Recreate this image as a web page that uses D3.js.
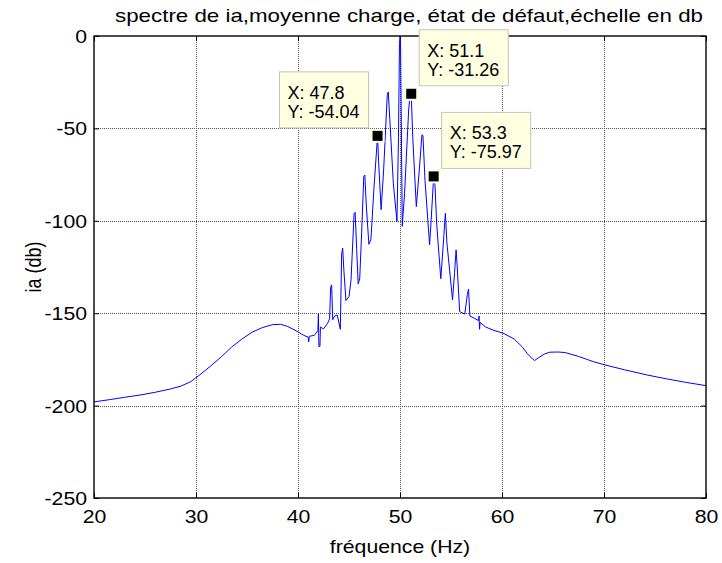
<!DOCTYPE html>
<html>
<head>
<meta charset="utf-8">
<script src="https://cdn.jsdelivr.net/npm/d3@7"></script>
<style>
  body { margin: 0; background: #fff; }
  svg text { font-family: "Liberation Sans", Arial, Helvetica, sans-serif; fill: #000; }
</style>
</head>
<body>
<svg id="chart" width="722" height="563"></svg>
<script>
// Spectrum of phase current ia (dB) around the 50 Hz fundamental
const freqHz = [
  20.0, 21.5, 23.0, 24.5, 26.0, 27.5, 28.5, 29.5, 30.5, 31.5,
  32.5, 33.5, 34.5, 35.5, 36.5, 37.5, 38.3, 39.0, 39.8, 40.5,
  41.0, 41.05, 41.1, 41.6, 41.95, 42.0, 42.05, 42.15, 42.2, 42.5,
  42.9, 43.1, 43.2, 43.3, 43.4, 43.6, 43.85, 44.15, 44.28, 44.38,
  44.5, 44.7, 45.0, 45.2, 45.5, 45.6, 45.75, 45.9, 46.05, 46.25,
  46.45, 46.55, 46.7, 46.95, 47.15, 47.45, 47.8, 47.9, 48.15, 48.4,
  48.75, 48.85, 49.0, 49.35, 49.7, 49.85, 49.95, 50.0, 50.05, 50.15,
  50.22, 50.45, 50.85, 51.0, 51.1, 51.25, 51.6, 51.9, 52.15, 52.25,
  52.45, 52.9, 53.05, 53.3, 53.4, 53.6, 54.0, 54.3, 54.45, 54.6,
  55.15, 55.35, 55.5, 55.6, 55.85, 56.35, 56.6, 56.72, 56.85, 57.3,
  57.7, 57.75, 57.8, 57.85, 58.4, 59.2, 60.1, 61.2, 62.0, 62.5,
  63.0, 63.2, 63.6, 64.2, 64.7, 65.5, 66.2, 67.5, 69.0, 70.1,
  72.0, 74.2, 76.0, 78.0, 80.0
];
const levelDb = [
  -198.0, -196.8, -195.5, -194.3, -192.8, -191.0, -189.5, -187.0, -182.8, -178.3,
  -173.5, -168.3, -164.0, -160.3, -157.8, -156.2, -156.0, -157.2, -159.5, -161.8,
  -163.0, -165.5, -162.5, -162.0, -159.5, -150.5, -168.0, -168.0, -157.5, -158.5,
  -155.5, -153.0, -136.0, -134.7, -153.5, -151.5, -151.0, -158.7, -118.0, -114.8,
  -127.0, -143.2, -141.0, -132.0, -96.0, -95.4, -115.0, -134.1, -131.5, -105.0,
  -76.0, -75.2, -92.0, -112.7, -110.0, -82.0, -54.04, -68.0, -94.0, -72.0,
  -32.0, -30.3, -45.0, -80.0, -100.4, -55.0, -4.0, 0.0, -2.0, -60.0,
  -103.0, -85.0, -40.0, -30.8, -31.26, -55.0, -92.3, -72.0, -53.5, -53.8,
  -78.0, -113.0, -100.0, -75.97, -77.0, -102.0, -131.4, -108.0, -95.9, -112.0,
  -142.8, -128.0, -115.7, -124.0, -149.1, -150.5, -140.0, -137.0, -151.5, -152.8,
  -154.0, -151.5, -158.7, -155.0, -157.5, -159.3, -160.8, -164.0, -168.3, -172.0,
  -174.8, -175.6, -174.0, -172.0, -171.1, -171.0, -171.3, -173.4, -176.3, -178.0,
  -180.6, -183.4, -185.4, -187.4, -189.2
];

const xTicks = [20, 30, 40, 50, 60, 70, 80];
const yTicks = [-250, -200, -150, -100, -50, 0];

// data cursors
const tipFreq  = [47.8, 51.1, 53.3];
const tipLevel = [-54.04, -31.26, -75.97];
const tipSide  = ["left", "right", "right"];

const titleText = "spectre de ia,moyenne charge, état de défaut,échelle en db";
const xLabel = "fréquence (Hz)";
const yLabel = "ia (db)";

const plot = { left: 94, right: 706, top: 36, bottom: 498 };
const fs = 18;        // axis text size
const sx = 1.18;      // axis text is set slightly wide
const titleSx = 1.24;
const tipFs = 18;

const svg = d3.select("#chart");
const x = d3.scaleLinear().domain([20, 80]).range([plot.left, plot.right]);
const y = d3.scaleLinear().domain([-250, 0]).range([plot.bottom, plot.top]);

function wideText(parent, px, py, str, anchor, rot, k = sx) {
  return parent.append("text")
    .attr("transform", `translate(${px},${py})${rot ? ` rotate(${rot})` : ""} scale(${rot ? "1," + k : k + ",1"})`)
    .attr("text-anchor", anchor).attr("font-size", fs).text(str);
}

// grid
const grid = svg.append("g").attr("class", "grid");
grid.selectAll("line.gx").data(xTicks.slice(1, -1)).join("line")
  .attr("x1", d => Math.round(x(d)) + 0.5).attr("x2", d => Math.round(x(d)) + 0.5)
  .attr("y1", plot.top).attr("y2", plot.bottom);
grid.selectAll("line.gy").data(yTicks.slice(1, -1)).join("line")
  .attr("y1", d => Math.round(y(d)) + 0.5).attr("y2", d => Math.round(y(d)) + 0.5)
  .attr("x1", plot.left).attr("x2", plot.right);
grid.selectAll("line")
  .attr("stroke", "#555").attr("stroke-width", 1).attr("stroke-dasharray", "1,1");

// axes with inward ticks on all four sides
const tick = 5;
const axB = svg.append("g").attr("transform", `translate(0,${plot.bottom})`)
  .call(d3.axisBottom(x).tickValues(xTicks).tickSize(-tick).tickFormat(""));
const axT = svg.append("g").attr("transform", `translate(0,${plot.top})`)
  .call(d3.axisTop(x).tickValues(xTicks).tickSize(-tick).tickFormat(""));
const axL = svg.append("g").attr("transform", `translate(${plot.left},0)`)
  .call(d3.axisLeft(y).tickValues(yTicks).tickSize(-tick).tickFormat(""));
const axR = svg.append("g").attr("transform", `translate(${plot.right},0)`)
  .call(d3.axisRight(y).tickValues(yTicks).tickSize(-tick).tickFormat(""));
[axB, axT, axL, axR].forEach(a => {
  a.select(".domain").remove();
  a.selectAll(".tick text").remove();
  a.selectAll(".tick line").attr("stroke", "#000").attr("stroke-width", 1);
});
axB.selectAll(".tick").each(function (d) {
  wideText(d3.select(this), 0, 25, String(d), "middle");
});
axL.selectAll(".tick").each(function (d) {
  wideText(d3.select(this), -7, 6.5, String(d), "end");
});

// spectrum
const line = d3.line().x((d, i) => x(freqHz[i])).y(d => y(d));
svg.append("path").datum(levelDb)
  .attr("d", line)
  .attr("fill", "none").attr("stroke", "#0000ff").attr("stroke-width", 1)
  .attr("stroke-linejoin", "round");

// axes box
svg.append("rect")
  .attr("x", plot.left).attr("y", plot.top)
  .attr("width", plot.right - plot.left).attr("height", plot.bottom - plot.top)
  .attr("fill", "none").attr("stroke", "#000").attr("stroke-width", 1.4);

// data tips
tipFreq.forEach((f, i) => {
  const px = x(f), py = y(tipLevel[i]);
  const g = svg.append("g");
  const box = g.append("rect").attr("fill", "#ffffe1").attr("stroke", "#c4c4b4").attr("stroke-width", 1);
  const t1 = g.append("text").attr("font-size", tipFs).text(`X: ${f}`);
  const t2 = g.append("text").attr("font-size", tipFs).text(`Y: ${tipLevel[i]}`);
  const w = Math.max(t1.node().getComputedTextLength(), t2.node().getComputedTextLength()) + 17;
  const h = 56;
  const bx = tipSide[i] === "left" ? px - 9 - w : px + 8;
  const by = py - 8 - h;
  box.attr("x", bx).attr("y", by).attr("width", w).attr("height", h);
  t1.attr("x", bx + 8).attr("y", by + 27);
  t2.attr("x", bx + 8).attr("y", by + 46);
  svg.append("rect")
    .attr("x", px - 6).attr("y", py - 6).attr("width", 12).attr("height", 12)
    .attr("fill", "#000").attr("stroke", "#ffffe1").attr("stroke-width", 2);
});

// labels
wideText(svg, 409, 22, titleText, "middle", 0, titleSx);
wideText(svg, (plot.left + plot.right) / 2, 553, xLabel, "middle");
wideText(svg, 41, (plot.top + plot.bottom) / 2, yLabel, "middle", -90);
</script>
</body>
</html>
